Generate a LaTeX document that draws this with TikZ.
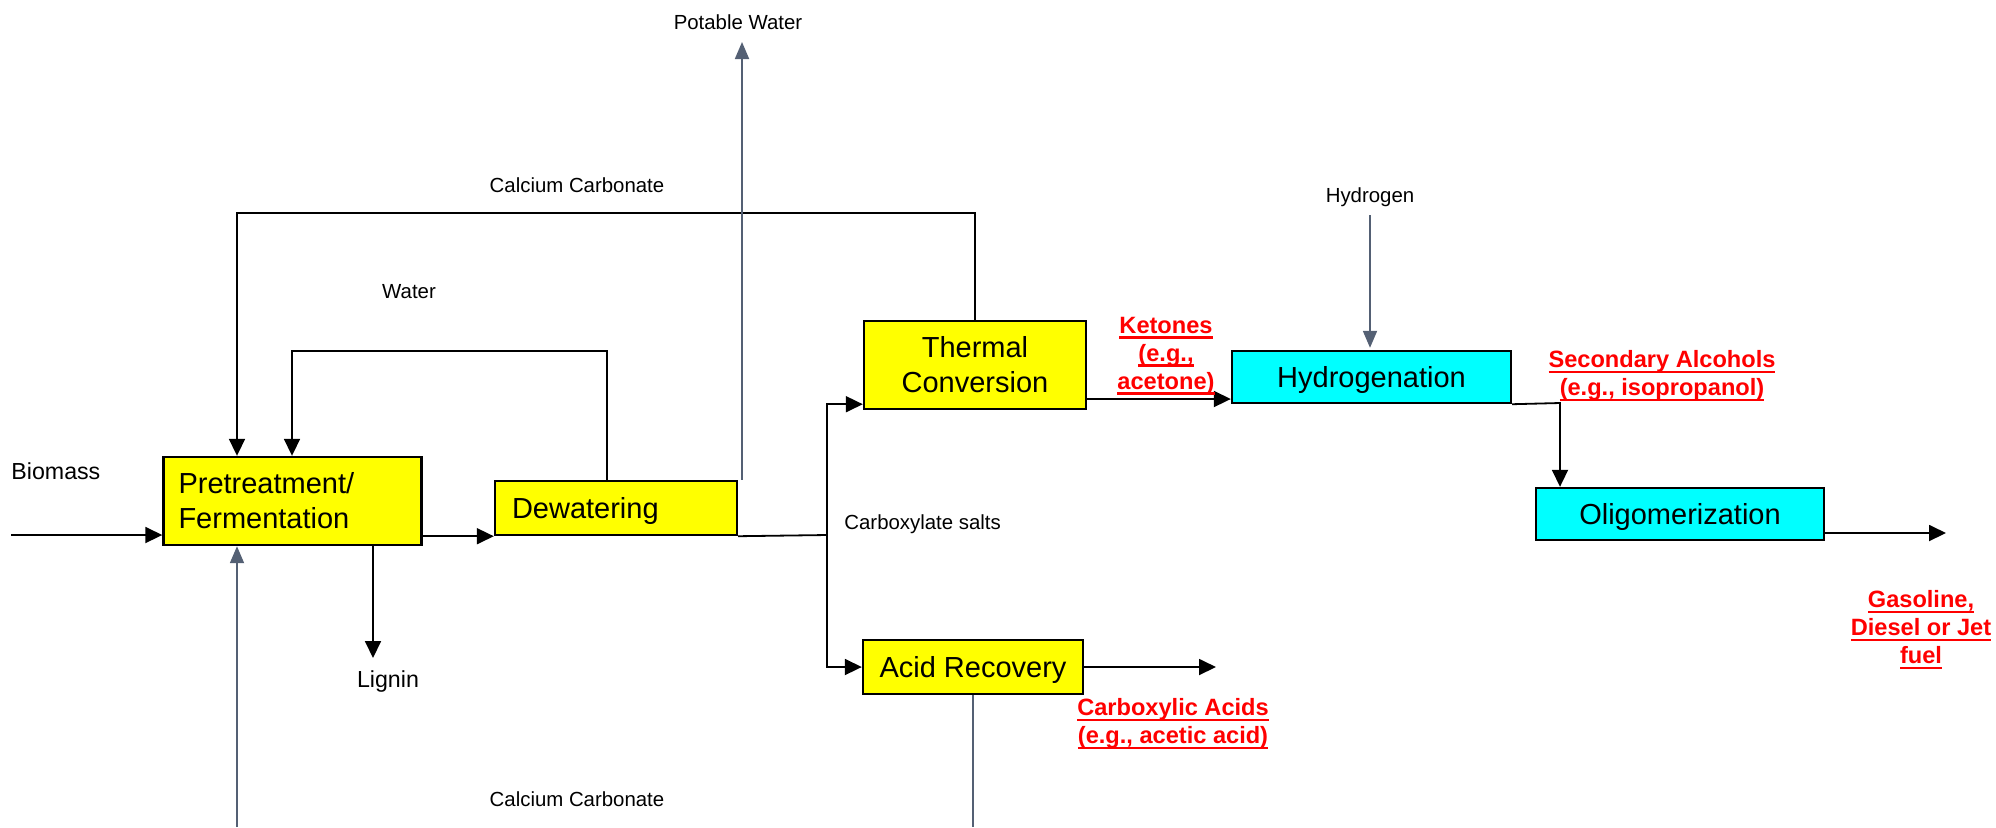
\documentclass[tikz,border=0pt]{standalone}
\usepackage{fontspec}
\setmainfont{Liberation Sans}
\usetikzlibrary{arrows.meta,calc}
\definecolor{boxyellow}{RGB}{255,255,0}
\definecolor{boxcyan}{RGB}{0,255,255}
\definecolor{gline}{RGB}{84,96,116}
\definecolor{redlab}{RGB}{255,0,0}
\newcommand{\ulred}[1]{\setbox0\hbox{#1}\rlap{\rule[-2.6pt]{\wd0}{1.2pt}}\box0}
\begin{document}
\begin{tikzpicture}[x=0.5pt,y=-0.5pt,
  procbox/.style={draw=black, line width=1.2pt, inner ysep=2pt, font=\fontsize{14.5}{17.5}\selectfont},
  oneline/.style={text depth=0pt},
  ybox/.style={procbox, fill=boxyellow},
  cbox/.style={procbox, fill=boxcyan},
  flow/.style={line width=0.9pt, black},
  arr/.style={flow, -{Triangle[length=8.5pt,width=8pt]}},
  gflow/.style={line width=0.9pt, draw=gline},
  garr/.style={gflow, -{Triangle[length=8.5pt,width=7pt]}},
  lab/.style={font=\fontsize{10.2}{12}\selectfont, inner sep=0pt},
  biglab/.style={font=\fontsize{11.6}{13}\selectfont, inner sep=0pt},
  rlab/.style={font=\fontsize{11.8}{14}\selectfont\bfseries, text=redlab, align=center, inner sep=0pt}
]
\useasboundingbox (0,0) rectangle (1996,827);

% process boxes
\node[ybox, minimum width=129pt, minimum height=44pt, inner xsep=7.5pt, text width=114pt, align=left] (pre) at (292.5,501) {Pretreatment/\\Fermentation};
\node[ybox, oneline, minimum width=121pt, minimum height=27pt, inner xsep=8.5pt, text width=104pt, align=left] (dew) at (616,508) {Dewatering};
\node[ybox, minimum width=111pt, minimum height=44pt, align=center] (therm) at (975,365) {Thermal\\Conversion};
\node[ybox, oneline, minimum width=110pt, minimum height=27pt] (acid) at (973,667) {Acid Recovery};
\node[cbox, oneline, minimum width=139.5pt, minimum height=26pt] (hydro) at (1371.5,377) {Hydrogenation};
\node[cbox, oneline, minimum width=144pt, minimum height=26pt] (olig) at (1680,514) {Oligomerization};

% coordinates
\coordinate (bin) at (11,535);
\coordinate (split) at (827,535);
\coordinate (acidout) at (1216,667);
\coordinate (bot1) at (237,827);
\coordinate (bot2) at (974,827);
\coordinate (lig) at (373,658);
\coordinate (cc1) at (975,213);
\coordinate (wl) at (607,351);
\coordinate (wl2) at (292,351);
\coordinate (pw) at (742,42);
\coordinate (h2) at (1370,215);
\coordinate (ty) at (0,399);
\coordinate (hol) at (1560,403);
\coordinate (fuel) at (1946,533);

% connectors
\draw[arr] (bin) -- (bin -| pre.west);
\draw[arr] (pre.east |- dew.south west) -- (dew.south west);
\draw[flow] (dew.south east) -- (split);
\draw[arr] (split) |- ($(therm.south west)+(0,-6)$);
\draw[arr] (split) |- (acid.west);
\draw[arr] (acid.east) -- (acidout);
\draw[gflow] (acid.south) -- (acid.south |- bot2);
\draw[garr] (bot1) -- (bot1 |- pre.south);
\draw[arr] (lig |- pre.south) -- (lig);
\draw[arr] (therm.north) -- (cc1) -| (bot1 |- pre.north);
\draw[arr] (wl |- dew.north) -- (wl) -- (wl2) -- (wl2 |- pre.north);
\draw[garr] (pw |- dew.north) -- (pw);
\draw[arr] (therm.east |- ty) -- (hydro.west |- ty);
\draw[garr, shorten >=1pt] (h2) -- (h2 |- hydro.north);
\draw[arr] (hydro.south east) -- (hol) -- (hol |- olig.north);
\draw[arr] (olig.east |- fuel) -- (fuel);

% labels
\node[biglab, anchor=west] (lbio) at (11,471) {Biomass};
\node[lab] (lpw) at (738,22) {Potable Water};
\node[lab] (lcc1) at (577,185) {Calcium Carbonate};
\node[lab] (lwat) at (409,292) {Water};
\node[lab] (lh2) at (1370,197) {Hydrogen};
\node[lab, anchor=west] (lcs) at (844,524) {Carboxylate salts};
\node[biglab] (llig) at (388,681) {Lignin};
\node[lab] (lcc2) at (577,799) {Calcium Carbonate};

\node[rlab] (lket) at (1166,356) {\ulred{Ketones}\\\ulred{(e.g.,}\\\ulred{acetone)}};
\node[rlab] (lsec) at (1662,376) {\ulred{Secondary Alcohols}\\\ulred{(e.g., isopropanol)}};
\node[rlab] (lcarb) at (1173,724) {\ulred{Carboxylic Acids}\\\ulred{(e.g., acetic acid)}};
\node[rlab] (lfuel) at (1921,630) {\ulred{Gasoline,}\\\ulred{Diesel or Jet}\\\ulred{fuel}};
\end{tikzpicture}
\end{document}
